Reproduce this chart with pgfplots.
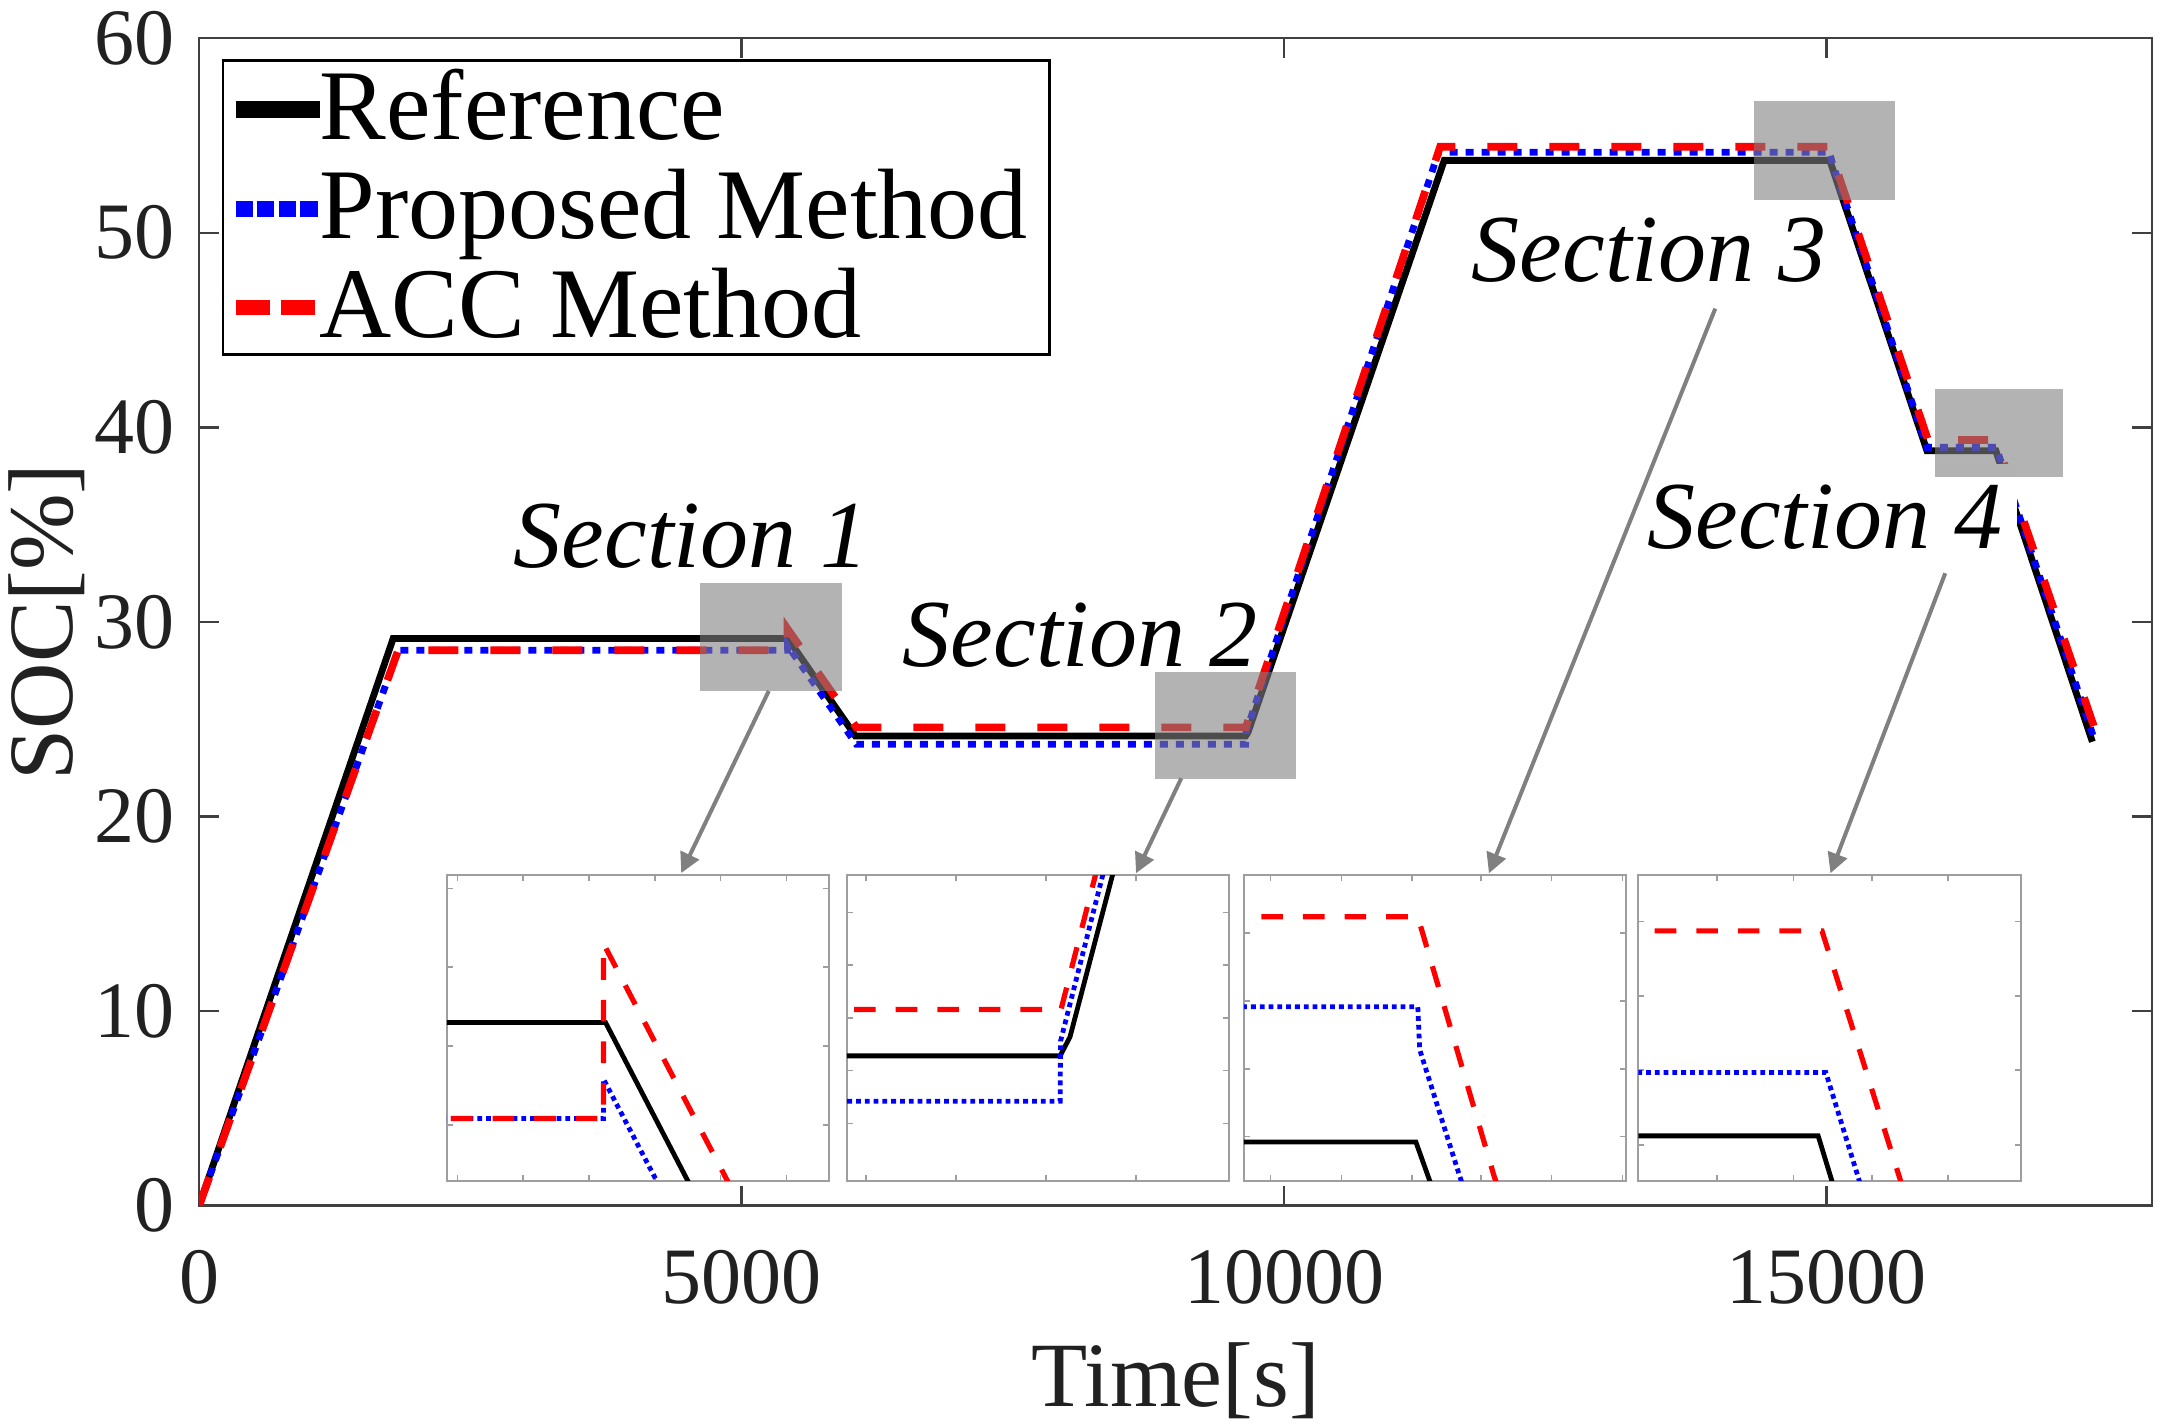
\documentclass[border=0pt]{standalone}
\usepackage{fontspec}
\setmainfont{Liberation Serif}
\usepackage{pgfplots}
\pgfplotsset{compat=1.18}
\usepackage{pgfplotstable}
\usetikzlibrary{calc,arrows.meta}

\definecolor{boxgray}{RGB}{128,128,128}
\definecolor{arrowgray}{RGB}{128,128,128}

\pgfplotstableread{
t soc
0 0
1788 29.15
5425 29.15
6048 24.14
9645 24.14
9667 24.32
11476 53.72
15030 53.72
15925 38.80
16560 38.80
17450 23.84
}\refdata

\pgfplotstableread{
t soc
0 0
1834 28.54
5422 28.54
5422 28.79
6057 23.71
9645 23.71
9646 24.28
11423 54.14
15031 54.14
15032 54.007
15053 53.612
15925 38.97
16564 38.97
17460 24.10
}\propdata

\pgfplotstableread{
t soc
0 0
1834 28.54
5422 28.54
5422 29.65
6056 24.58
9647 24.58
11438 54.42
15031 54.42
15033 54.38
15071 53.612
15935 39.35
16562 39.35
17466 24.60
}\accdata

\tikzset{
  refmain/.style={black, line width=1.7pt},
  propmain/.style={blue, line width=1.7pt, dash pattern=on 2pt off 2pt},
  accmain/.style={red, line width=1.9pt, dash pattern=on 7.5pt off 8pt},
  refin/.style={black, line width=1.2pt},
  propin/.style={blue, line width=1.2pt, dash pattern=on 1.2pt off 1pt},
  accin/.style={red, line width=1.3pt, dash pattern=on 5.4pt off 5pt},
}

\pgfplotsset{
  inset/.style={
    scale only axis, width=95.6pt, height=76.4pt,
    anchor=south west,
    scaled x ticks=false, scaled y ticks=false,
    axis background/.style={fill=white},
    xticklabels={}, yticklabels={},
    tick align=inside, major tick length=1.5pt,
    axis line style={black!38, line width=0.5pt},
    tick style={black!38, line width=0.4pt},
  },
}

\begin{document}
\begin{tikzpicture}
\begin{axis}[
  name=main, at={(0,0)}, anchor=south west,
  scale only axis, width=488.2pt, height=291.85pt,
  xmin=0, xmax=18000, ymin=0, ymax=60,
  xtick={0,5000,10000,15000}, ytick={0,10,...,60},
  scaled x ticks=false, scaled y ticks=false,
  tick align=inside, major tick length=5pt,
  axis line style={black!75, line width=0.6pt},
  tick style={black!75, line width=0.6pt},
  /pgf/number format/assume math mode=true,
  /pgf/number format/1000 sep={},
  ticklabel style={font=\fontsize{20}{20}\selectfont, text=black!87},
  xticklabel style={inner sep=0pt, anchor=north, yshift=-11pt},
  yticklabel style={inner sep=0pt, anchor=east, xshift=-6pt},
  xlabel={Time[s]}, ylabel={SOC[\%]},
  label style={font=\fontsize{23}{23}\selectfont, text=black!87},
  xlabel style={at={(axis description cs:0.5,-0.1724)}, anchor=base},
  ylabel style={at={(axis description cs:-0.0647,0.5)}, anchor=base},
  legend style={
    at={(axis description cs:0.01147,0.98184)}, anchor=north west,
    draw=black, line width=0.6pt, fill=white,
    inner xsep=1.1pt, inner ysep=0pt,
    font=\fontsize{25}{25}\selectfont,
    nodes={inner sep=0pt, text height=19.75pt, text depth=4.3pt},
    row sep=0.65pt,
    /tikz/every odd column/.append style={column sep=-2.1pt},
  },
  legend cell align=left,
  legend image code/.code={\draw[#1] (0pt,-0.3pt) -- (21pt,-0.3pt);},
]
\addplot[refmain, forget plot] table[x=t, y=soc] {\refdata};
\addplot[propmain, forget plot] table[x=t, y=soc] {\propdata};
\addplot[accmain, forget plot] table[x=t, y=soc] {\accdata};

\addlegendimage{black, line width=4.2pt}
\addlegendentry{Reference}
\addlegendimage{blue, line width=4pt, dash pattern=on 4.3pt off 1.1pt}
\addlegendentry{Proposed Method\hspace*{4.3pt}}
\addlegendimage{red, line width=3.8pt, dash pattern=on 8.6pt off 2.7pt}
\addlegendentry{ACC Method}

% section labels
\node[anchor=base west, inner sep=0pt, font=\fontsize{24}{24}\selectfont\itshape] at (axis cs:2892,32.80) {Section 1};
\node[anchor=base west, inner sep=0pt, font=\fontsize{24}{24}\selectfont\itshape] at (axis cs:6478,27.70) {Section 2};
\node[anchor=base west, inner sep=0pt, font=\fontsize{24}{24}\selectfont\itshape] at (axis cs:11723,47.48) {Section 3};
\node[anchor=base west, inner xsep=3.6pt, inner ysep=5.3pt, fill=white, font=\fontsize{24}{24}\selectfont\itshape] at (axis cs:13210,33.76) {Section 4};

% zoom boxes
\fill[boxgray, fill opacity=0.6] (axis cs:4619,26.43) rectangle (axis cs:5928,31.98);
\fill[boxgray, fill opacity=0.6] (axis cs:8810,21.91) rectangle (axis cs:10113,27.44);
\fill[boxgray, fill opacity=0.6] (axis cs:14331,51.70) rectangle (axis cs:15635,56.77);
\fill[boxgray, fill opacity=0.6] (axis cs:15997,37.43) rectangle (axis cs:17181,41.97);

% arrows
\draw[arrowgray, line width=1pt, -{Triangle[length=5pt,width=5pt]}] (axis cs:5250,26.45) -- (axis cs:4443,17.09);
\draw[arrowgray, line width=1pt, -{Triangle[length=5pt,width=5pt]}] (axis cs:9052,21.96) -- (axis cs:8635,17.08);
\draw[arrowgray, line width=1pt, -{Triangle[length=5pt,width=5pt]}] (axis cs:13974,46.10) -- (axis cs:11888,17.08);
\draw[arrowgray, line width=1pt, -{Triangle[length=5pt,width=5pt]}] (axis cs:16094,32.50) -- (axis cs:15036,17.08);
\end{axis}

% inset 1
\begin{axis}[inset, at={($(main.south west)+(61.9pt,6.2pt)$)},
  xmin=5184, xmax=5765, ymin=28.145, ymax=30.085,
  xtick={5200,5300,5400,5500,5600,5700}, ytick={28.5,29,29.5,30}]
\addplot[refin] table[x=t, y=soc] {\refdata};
\addplot[propin] table[x=t, y=soc] {\propdata};
\addplot[accin] table[x=t, y=soc] {\accdata};
\end{axis}

% inset 2
\begin{axis}[inset, at={($(main.south west)+(161.9pt,6.2pt)$)},
  xmin=9171, xmax=10021, ymin=22.955, ymax=25.855,
  xtick={9214,9413,9613,9814}, ytick={23.5,24,24.5,25,25.5}]
\addplot[refin] table[x=t, y=soc] {\refdata};
\addplot[propin] table[x=t, y=soc] {\propdata};
\addplot[accin] table[x=t, y=soc] {\accdata};
\end{axis}

% inset 3
\begin{axis}[inset, at={($(main.south west)+(261.05pt,6.2pt)$)},
  xmin=14940, xmax=15140, ymin=53.60, ymax=54.55,
  xtick={14954,14991,15028,15064,15101,15138}, ytick={53.737,53.947,54.158,54.369}]
\addplot[refin] table[x=t, y=soc] {\refdata};
\addplot[propin] table[x=t, y=soc] {\propdata};
\addplot[accin] table[x=t, y=soc] {\accdata};
\end{axis}

% inset 4
\begin{axis}[inset, at={($(main.south west)+(359.7pt,6.2pt)$)},
  xmin=16466, xmax=16666, ymin=38.68, ymax=39.50,
  xtick={16507,16547,16588,16628}, ytick={38.776,38.976,39.175,39.375}]
\addplot[refin] table[x=t, y=soc] {\refdata};
\addplot[propin] table[x=t, y=soc] {\propdata};
\addplot[accin] table[x=t, y=soc] {\accdata};
\end{axis}

\pgfresetboundingbox
\path[use as bounding box] ($(main.south west)+(-49.8pt,-55.35pt)$) rectangle ($(main.north east)+(7pt,9.55pt)$);
\end{tikzpicture}
\end{document}
